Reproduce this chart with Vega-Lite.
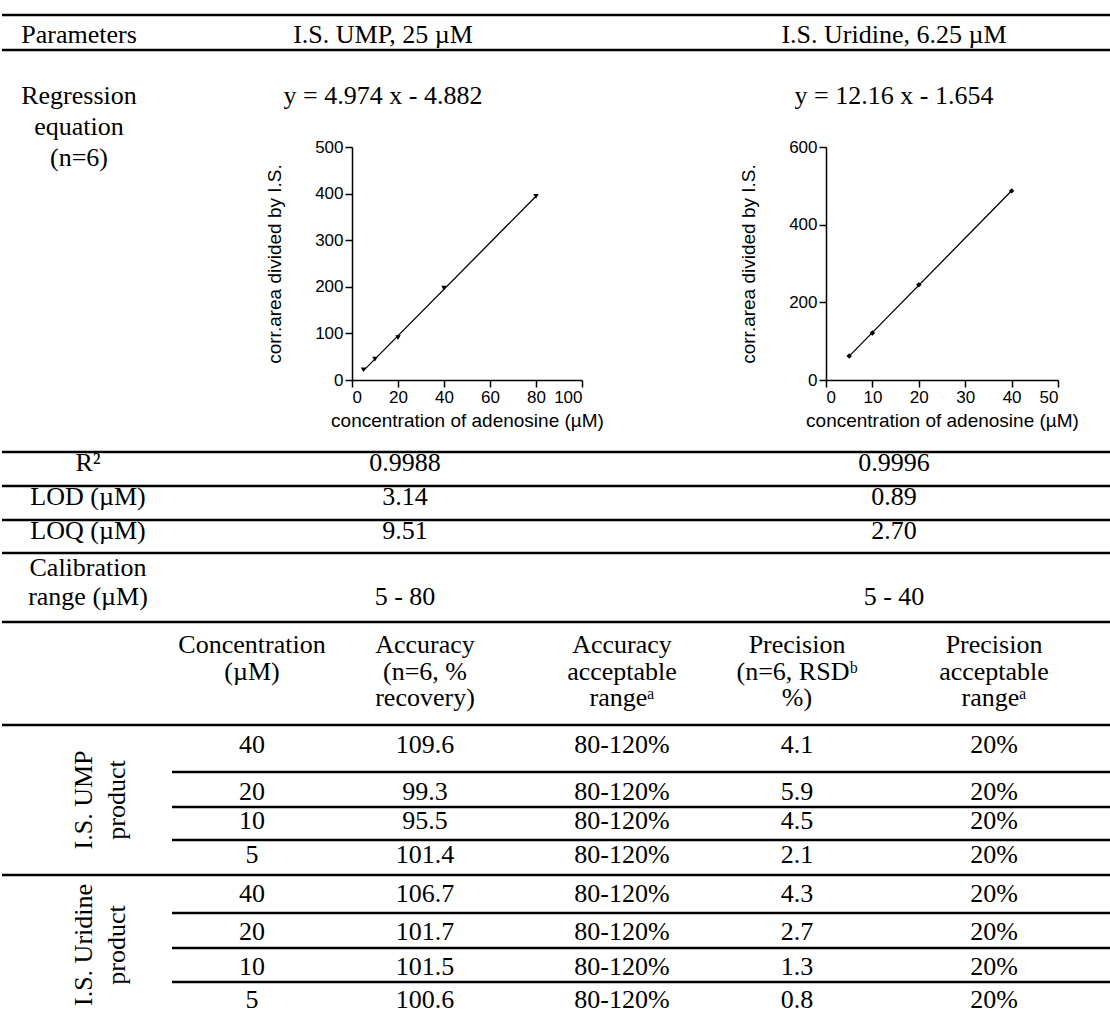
{
  "$schema": "https://vega.github.io/schema/vega-lite/v6.json",
  "padding": 0,
  "background": "white",
  "bounds": "flush",
  "spacing": 0,
  "config": {
    "view": {"stroke": null},
    "concat": {"spacing": 0},
    "text": {"font": "Liberation Serif", "fontSize": 26, "color": "black"},
    "axis": {
      "grid": false,
      "domainColor": "black",
      "domainWidth": 1.5,
      "tickColor": "black",
      "tickWidth": 1.5,
      "tickSize": 7,
      "labelFont": "Liberation Sans",
      "labelFontSize": 17,
      "labelColor": "black",
      "labelPadding": 2,
      "titleFont": "Liberation Sans",
      "titleFontSize": 19,
      "titleFontWeight": "normal",
      "titleColor": "black"
    },
    "axisX": {"titlePadding": 6},
    "axisY": {"titlePadding": 30}
  },
  "vconcat": [
    {
      "width": 1110,
      "height": 147,
      "layer": [
        {
          "data": {"values": [{"row": 0.5}, {"row": 1.5}]},
          "mark": {"type": "rule", "strokeWidth": 2.5, "color": "black"},
          "encoding": {
            "y": {"field": "row", "type": "quantitative", "axis": null,
                  "scale": {"domain": [0.5, 1, 1.5, 2], "range": [15, 43, 50, 104], "nice": false, "zero": false}}
          }
        },
        {
          "data": {"values": [
            {"row": 1, "col": 0, "text": "Parameters"},
            {"row": 1, "col": 1, "text": "I.S. UMP, 25 µM"},
            {"row": 1, "col": 2, "text": "I.S. Uridine, 6.25 µM"},
            {"row": 2, "col": 0, "text": ["Regression", "equation", "(n=6)"]},
            {"row": 2, "col": 1, "text": "y = 4.974 x - 4.882"},
            {"row": 2, "col": 2, "text": "y = 12.16 x - 1.654"}
          ]},
          "mark": {"type": "text", "align": "center", "baseline": "alphabetic", "lineHeight": 31},
          "encoding": {
            "x": {"field": "col", "type": "quantitative", "axis": null,
                  "scale": {"domain": [0, 1, 2], "range": [77, 381, 892], "nice": false, "zero": false}},
            "y": {"field": "row", "type": "quantitative", "axis": null},
            "text": {"field": "text"}
          }
        }
      ]
    },
    {
      "width": 1110,
      "height": 233,
      "resolve": {
        "scale": {"x": "independent", "y": "independent"},
        "axis": {"x": "independent", "y": "independent"}
      },
      "layer": [
        {
          "data": {"values": [
            {"conc": 5, "ratio": 22},
            {"conc": 10, "ratio": 45},
            {"conc": 20, "ratio": 91},
            {"conc": 40, "ratio": 197},
            {"conc": 80, "ratio": 394}
          ]},
          "encoding": {
            "x": {"field": "conc", "type": "quantitative",
                  "scale": {"domain": [0, 100], "range": [350, 580], "nice": false, "zero": false},
                  "axis": {"orient": "bottom", "values": [0, 20, 40, 60, 80, 100], "title": "concentration of adenosine (µM)"}},
            "y": {"field": "ratio", "type": "quantitative",
                  "scale": {"domain": [0, 500], "range": [233, 0], "nice": false, "zero": false},
                  "axis": {"orient": "left", "offset": -350, "values": [0, 100, 200, 300, 400, 500], "title": "corr.area divided by I.S."}}
          },
          "layer": [
            {
              "transform": [{"regression": "ratio", "on": "conc"}],
              "mark": {"type": "line", "color": "black", "strokeWidth": 1.3}
            },
            {
              "mark": {"type": "point", "shape": "triangle-down", "filled": true, "color": "black", "opacity": 1, "size": 30}
            }
          ]
        },
        {
          "data": {"values": [
            {"conc": 5, "ratio": 62},
            {"conc": 10, "ratio": 121},
            {"conc": 20, "ratio": 245},
            {"conc": 40, "ratio": 487}
          ]},
          "encoding": {
            "x": {"field": "conc", "type": "quantitative",
                  "scale": {"domain": [0, 50], "range": [824, 1056], "nice": false, "zero": false},
                  "axis": {"orient": "bottom", "values": [0, 10, 20, 30, 40, 50], "title": "concentration of adenosine (µM)"}},
            "y": {"field": "ratio", "type": "quantitative",
                  "scale": {"domain": [0, 600], "range": [233, 0], "nice": false, "zero": false},
                  "axis": {"orient": "left", "offset": -824, "values": [0, 200, 400, 600], "title": "corr.area divided by I.S."}}
          },
          "layer": [
            {
              "transform": [{"regression": "ratio", "on": "conc"}],
              "mark": {"type": "line", "color": "black", "strokeWidth": 1.3}
            },
            {
              "mark": {"type": "point", "shape": "diamond", "filled": true, "color": "black", "opacity": 1, "size": 30}
            }
          ]
        }
      ]
    },
    {
      "width": 1110,
      "height": 242,
      "layer": [
        {
          "data": {"values": [{"row": 0.5}, {"row": 1.5}, {"row": 2.5}, {"row": 3.5}]},
          "mark": {"type": "rule", "strokeWidth": 2.5, "color": "black"},
          "encoding": {
            "y": {"field": "row", "type": "quantitative", "axis": null,
                  "scale": {"domain": [0.5, 1, 1.5, 2, 2.5, 3, 3.5, 4, 5], "range": [72, 91, 106, 125, 140, 159, 173, 196, 225], "nice": false, "zero": false}}
          }
        },
        {
          "data": {"values": [
            {"row": 1, "col": 0, "text": "R²"},
            {"row": 1, "col": 1, "text": "0.9988"},
            {"row": 1, "col": 2, "text": "0.9996"},
            {"row": 2, "col": 0, "text": "LOD (µM)"},
            {"row": 2, "col": 1, "text": "3.14"},
            {"row": 2, "col": 2, "text": "0.89"},
            {"row": 3, "col": 0, "text": "LOQ (µM)"},
            {"row": 3, "col": 1, "text": "9.51"},
            {"row": 3, "col": 2, "text": "2.70"},
            {"row": 4, "col": 0, "text": ["Calibration", "range (µM)"]},
            {"row": 5, "col": 1, "text": "5 - 80"},
            {"row": 5, "col": 2, "text": "5 - 40"}
          ]},
          "mark": {"type": "text", "align": "center", "baseline": "alphabetic", "lineHeight": 29},
          "encoding": {
            "x": {"field": "col", "type": "quantitative", "axis": null,
                  "scale": {"domain": [0, 1, 2], "range": [86, 403, 892], "nice": false, "zero": false}},
            "y": {"field": "row", "type": "quantitative", "axis": null},
            "text": {"field": "text"}
          }
        }
      ]
    },
    {
      "width": 1110,
      "height": 390,
      "resolve": {"scale": {"y": "independent"}},
      "layer": [
        {
          "layer": [
            {
              "data": {"values": [{"row": -0.5}, {"row": 0.5}, {"row": 4.5}]},
              "mark": {"type": "rule", "strokeWidth": 2.5, "color": "black"},
              "encoding": {
                "y": {"field": "row", "type": "quantitative", "axis": null,
                      "scale": {"domain": [-0.5, 0, 0.5, 1, 1.5, 2, 2.5, 3, 3.5, 4, 4.5, 5, 5.5, 6, 6.5, 7, 7.5, 8],
                                "range": [0, 31, 103, 131, 150, 178, 185, 207, 218, 241, 253, 280, 291, 318, 326, 353, 360, 386],
                                "nice": false, "zero": false}}
              }
            },
            {
              "data": {"values": [
                {"row": 1.5, "from": 1.5, "to": 7},
                {"row": 2.5, "from": 1.5, "to": 7},
                {"row": 3.5, "from": 1.5, "to": 7},
                {"row": 5.5, "from": 1.5, "to": 7},
                {"row": 6.5, "from": 1.5, "to": 7},
                {"row": 7.5, "from": 1.5, "to": 7}
              ]},
              "mark": {"type": "rule", "strokeWidth": 2.5, "color": "black"},
              "encoding": {
                "x": {"field": "from", "type": "quantitative", "axis": null,
                      "scale": {"domain": [0, 1, 1.5, 2, 3, 4, 5, 6, 7],
                                "range": [0, 82, 170, 250, 423, 620, 795, 992, 1110],
                                "nice": false, "zero": false}},
                "x2": {"field": "to"},
                "y": {"field": "row", "type": "quantitative", "axis": null}
              }
            },
            {
              "data": {"values": [
                {"row": 0, "col": 2, "text": ["Concentration", "(µM)"]},
                {"row": 0, "col": 3, "text": ["Accuracy", "(n=6, %", "recovery)"]},
                {"row": 0, "col": 4, "text": ["Accuracy", "acceptable", "rangeᵃ"]},
                {"row": 0, "col": 5, "text": ["Precision", "(n=6, RSDᵇ", "%)"]},
                {"row": 0, "col": 6, "text": ["Precision", "acceptable", "rangeᵃ"]},
                {"row": 1, "col": 2, "text": "40"},
                {"row": 1, "col": 3, "text": "109.6"},
                {"row": 1, "col": 4, "text": "80-120%"},
                {"row": 1, "col": 5, "text": "4.1"},
                {"row": 1, "col": 6, "text": "20%"},
                {"row": 2, "col": 2, "text": "20"},
                {"row": 2, "col": 3, "text": "99.3"},
                {"row": 2, "col": 4, "text": "80-120%"},
                {"row": 2, "col": 5, "text": "5.9"},
                {"row": 2, "col": 6, "text": "20%"},
                {"row": 3, "col": 2, "text": "10"},
                {"row": 3, "col": 3, "text": "95.5"},
                {"row": 3, "col": 4, "text": "80-120%"},
                {"row": 3, "col": 5, "text": "4.5"},
                {"row": 3, "col": 6, "text": "20%"},
                {"row": 4, "col": 2, "text": "5"},
                {"row": 4, "col": 3, "text": "101.4"},
                {"row": 4, "col": 4, "text": "80-120%"},
                {"row": 4, "col": 5, "text": "2.1"},
                {"row": 4, "col": 6, "text": "20%"},
                {"row": 5, "col": 2, "text": "40"},
                {"row": 5, "col": 3, "text": "106.7"},
                {"row": 5, "col": 4, "text": "80-120%"},
                {"row": 5, "col": 5, "text": "4.3"},
                {"row": 5, "col": 6, "text": "20%"},
                {"row": 6, "col": 2, "text": "20"},
                {"row": 6, "col": 3, "text": "101.7"},
                {"row": 6, "col": 4, "text": "80-120%"},
                {"row": 6, "col": 5, "text": "2.7"},
                {"row": 6, "col": 6, "text": "20%"},
                {"row": 7, "col": 2, "text": "10"},
                {"row": 7, "col": 3, "text": "101.5"},
                {"row": 7, "col": 4, "text": "80-120%"},
                {"row": 7, "col": 5, "text": "1.3"},
                {"row": 7, "col": 6, "text": "20%"},
                {"row": 8, "col": 2, "text": "5"},
                {"row": 8, "col": 3, "text": "100.6"},
                {"row": 8, "col": 4, "text": "80-120%"},
                {"row": 8, "col": 5, "text": "0.8"},
                {"row": 8, "col": 6, "text": "20%"}
              ]},
              "mark": {"type": "text", "align": "center", "baseline": "alphabetic", "lineHeight": 26.5},
              "encoding": {
                "x": {"field": "col", "type": "quantitative", "axis": null},
                "y": {"field": "row", "type": "quantitative", "axis": null},
                "text": {"field": "text"}
              }
            }
          ]
        },
        {
          "data": {"values": [
            {"group": 0, "col": 1, "text": ["I.S. UMP", "product"]},
            {"group": 1, "col": 1, "text": ["I.S. Uridine", "product"]}
          ]},
          "mark": {"type": "text", "align": "center", "baseline": "middle", "angle": 270, "lineHeight": 33},
          "encoding": {
            "x": {"field": "col", "type": "quantitative", "axis": null},
            "y": {"field": "group", "type": "quantitative", "axis": null,
                  "scale": {"domain": [0, 1], "range": [178, 323], "nice": false, "zero": false}},
            "text": {"field": "text"}
          }
        }
      ]
    }
  ]
}
